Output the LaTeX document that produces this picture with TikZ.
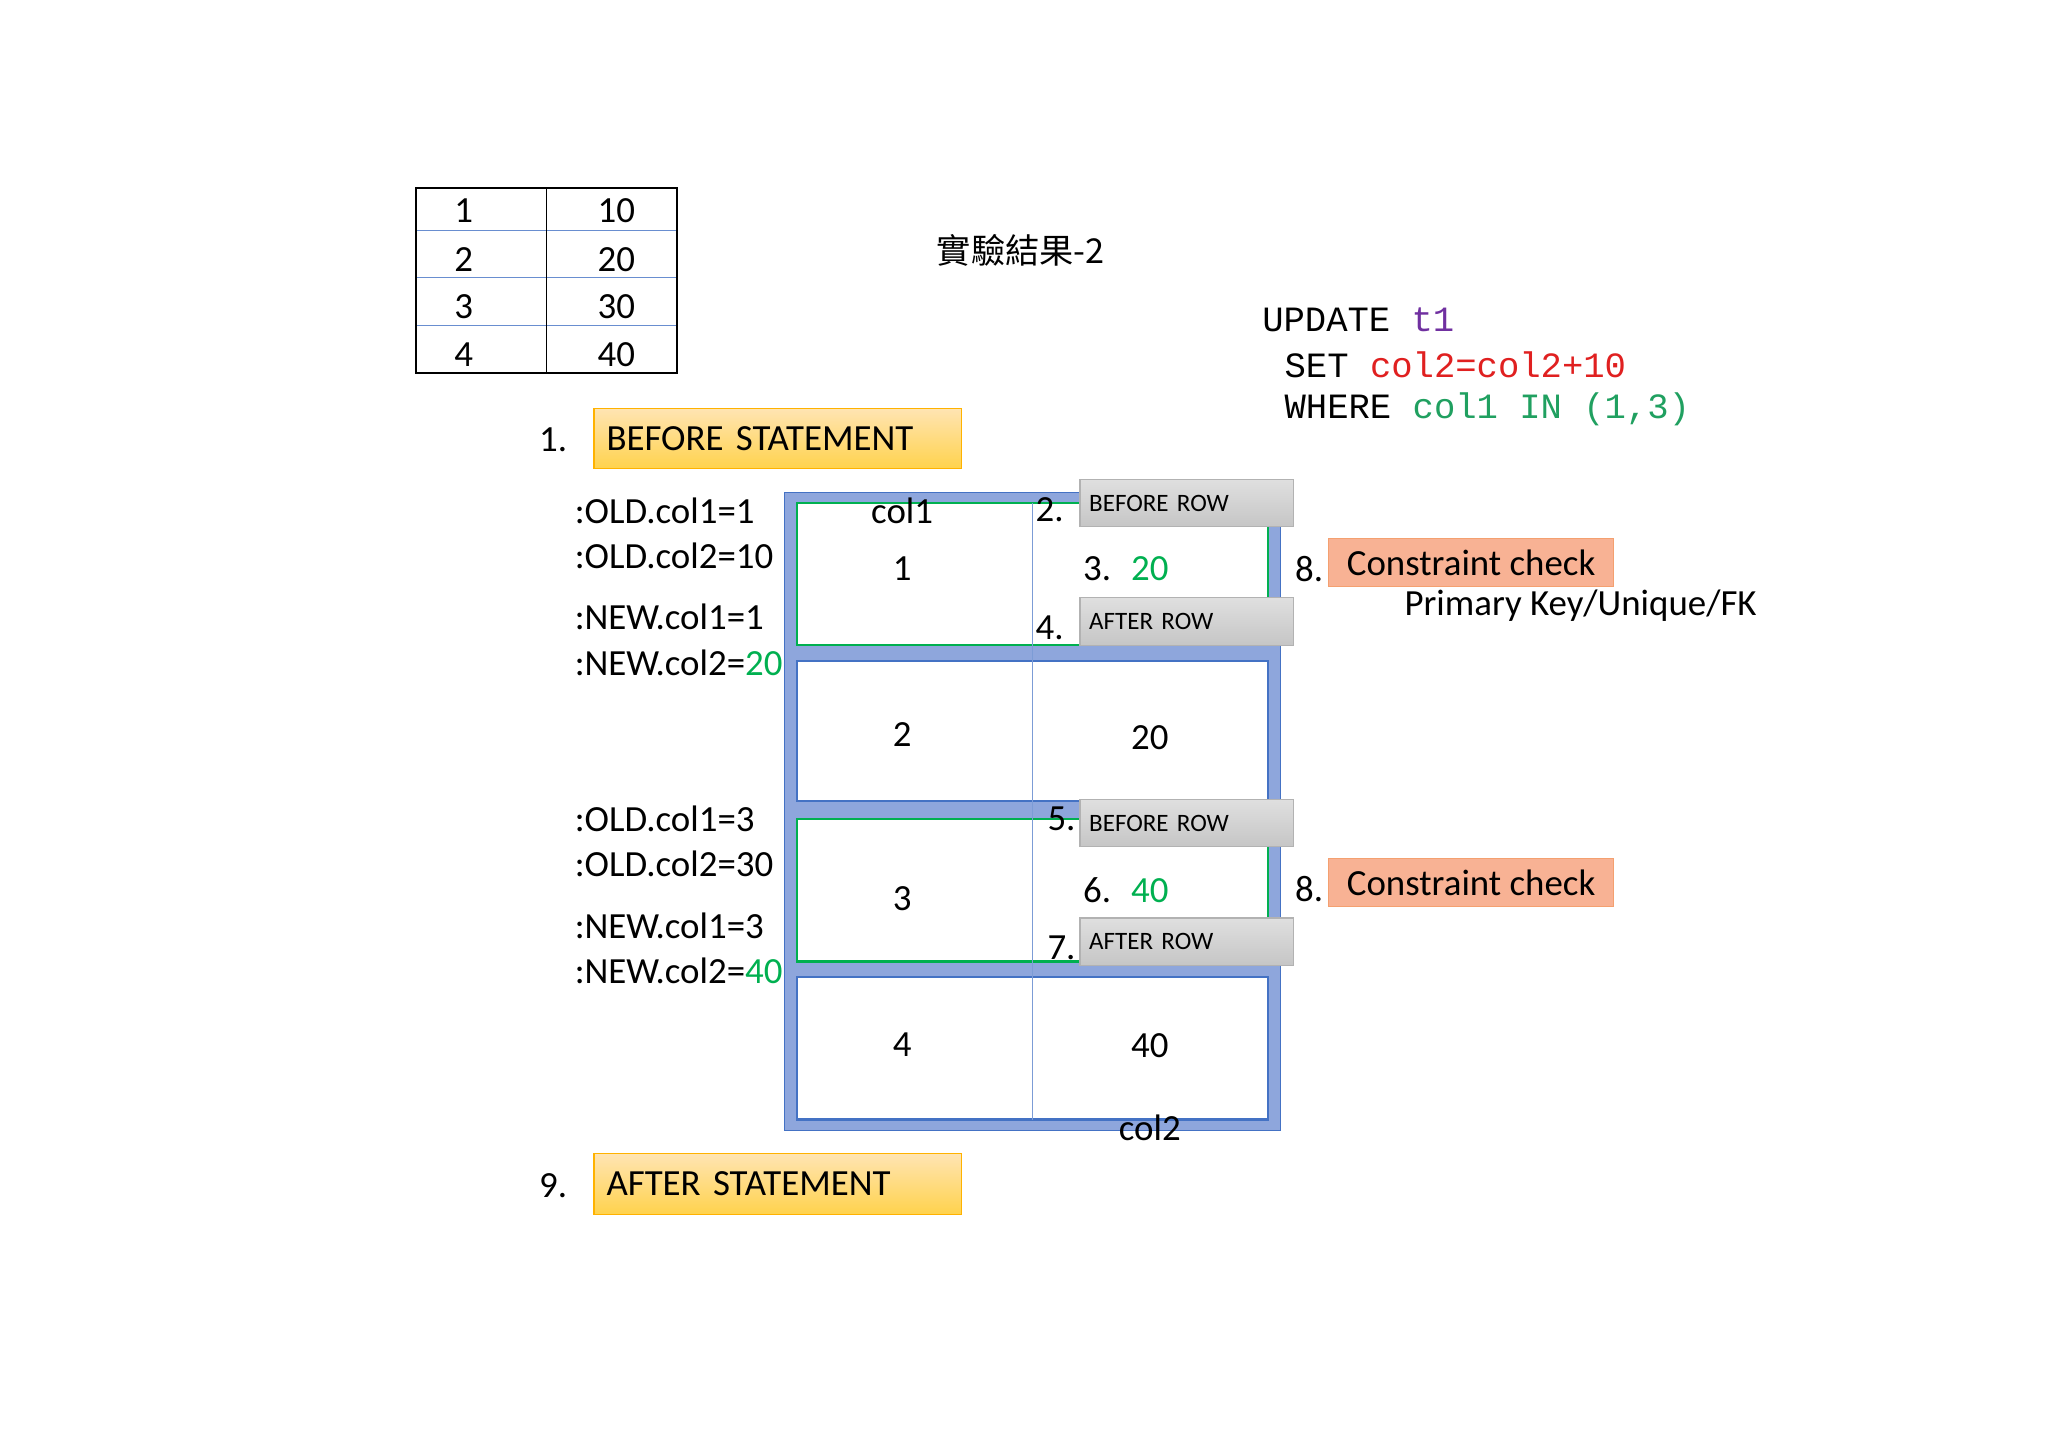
\documentclass[tikz,border=0pt]{standalone}
\usepackage{fontspec}
\setmainfont{Carlito}
\newfontfamily\codefont{Liberation Mono}
\newfontfamily\cjkfont{Noto Sans CJK TC}
\definecolor{grn}{HTML}{00B050}
\definecolor{frame}{HTML}{8EA6DC}
\definecolor{frameb}{HTML}{4472C4}
\definecolor{sal}{HTML}{F8B294}
\definecolor{salb}{HTML}{F4A070}
\definecolor{codered}{HTML}{E02020}
\definecolor{codegrn}{HTML}{20A060}
\definecolor{codepur}{HTML}{7030A0}
\begin{document}
\begin{tikzpicture}[x=0.5pt,y=-0.5pt,
  txt/.style={font=\fontsize{14}{16}\selectfont,inner sep=0pt},
  lt/.style={txt,anchor=west},
  code/.style={font=\codefont\fontsize{13.5}{16}\selectfont,inner sep=0pt,anchor=west},
  stmt/.style={draw=orange!60!yellow,top color=yellow!30!orange!30,bottom color=orange!50!yellow!70,minimum width=139.5pt,minimum height=23pt,inner sep=0pt,text width=130pt,align=left,font=\fontsize{14}{16}\selectfont},
  rowbox/.style={draw=gray!60,top color=gray!25,bottom color=gray!45,minimum width=81pt,minimum height=18pt,inner sep=0pt,text width=74pt,align=left,font=\fontsize{9.5}{11}\selectfont},
  chk/.style={draw=salb,fill=sal,minimum width=108pt,minimum height=18pt,inner sep=0pt,font=\fontsize{14}{16}\selectfont}]
\useasboundingbox[fill=white] (0,0) rectangle (1555,1099);
% small table
\draw[frameb!80,thin] (316,175) -- (514,175) (316,211) -- (514,211) (316,247) -- (514,247);
\draw[black,thick] (316,143) rectangle (514,283);
\draw[black] (415,143) -- (415,283);
\foreach \a/\b/\y [count=\i] in {1/10/160,2/20/197,3/30/233,4/40/269}{
  \node[txt] (ta\i) at (352,\y) {\a};
  \node[txt] (tb\i) at (468,\y) {\b};}
% title
\node[inner sep=0pt,font=\cjkfont\fontsize{13}{15}\selectfont] (title) at (775,190) {實驗結果-2};
% code
\node[code] (c1) at (958,243) {UPDATE \textcolor{codepur}{t1}};
\node[code] (c2) at (975,277) {SET \textcolor{codered}{col2=col2+10}};
\node[code] (c3) at (975,311) {WHERE \textcolor{codegrn}{col1 IN (1,3)}};
% statements
\node[txt] (n1) at (420,334) {1.};
\node[stmt] (bs) at (590.5,333) {BEFORE STATEMENT};
\node[txt] (n9) at (420,900) {9.};
\node[stmt] (as) at (590.5,899) {AFTER STATEMENT};
% big table
\fill[frame] (596,374) rectangle (972,858);
\draw[frameb] (596,374) rectangle (972,858);
\draw[grn,thick,fill=white] (605,382) rectangle (963,490);
\draw[frameb,thick,fill=white] (605,502) rectangle (963,608);
\draw[grn,thick,fill=white] (605,622) rectangle (963,730);
\draw[frameb,thick,fill=white] (605,742) rectangle (963,850);
\draw[frameb!70,thin] (784,382) -- (784,850);
\node[txt] (col1) at (685,388) {col1};
\node[txt] (col2) at (873,856) {col2};
\node[txt] (r1a) at (685,432) {1};
\node[txt] (s3) at (833,432) {3.};
\node[txt,text=grn] (r1b) at (873,432) {20};
\node[txt] (r2a) at (685,558) {2};
\node[txt] (r2b) at (873,560) {20};
\node[txt] (r3a) at (685,682) {3};
\node[txt] (s6) at (833,676) {6.};
\node[txt,text=grn] (r3b) at (873,676) {40};
\node[txt] (r4a) at (685,793) {4};
\node[txt] (r4b) at (873,794) {40};
% row triggers
\node[rowbox] (br1) at (901,382) {BEFORE ROW};
\node[rowbox] (ar1) at (901,472) {AFTER ROW};
\node[rowbox] (br2) at (901,625) {BEFORE ROW};
\node[rowbox] (ar2) at (901,715) {AFTER ROW};
\node[txt] (s2) at (797,387) {2.};
\node[txt] (s4) at (797,477) {4.};
\node[txt] (s5) at (806,622) {5.};
\node[txt] (s7) at (806,720) {7.};
% constraint
\node[txt] (s8a) at (994,432) {8.};
\node[chk] (ck1) at (1117,427) {Constraint check};
\node[lt] (pk) at (1066,460) {Primary Key/Unique/FK};
\node[txt] (s8b) at (994,675) {8.};
\node[chk] (ck2) at (1117,670) {Constraint check};
% OLD/NEW
\node[lt] (o1) at (436,388) {:OLD.col1=1};
\node[lt] (o2) at (436,422) {:OLD.col2=10};
\node[lt] (o3) at (436,468) {:NEW.col1=1};
\node[lt] (o4) at (436,503) {:NEW.col2=\textcolor{grn}{20}};
\node[lt] (o5) at (436,622) {:OLD.col1=3};
\node[lt] (o6) at (436,656) {:OLD.col2=30};
\node[lt] (o7) at (436,703) {:NEW.col1=3};
\node[lt] (o8) at (436,737) {:NEW.col2=\textcolor{grn}{40}};
\end{tikzpicture}
\end{document}
